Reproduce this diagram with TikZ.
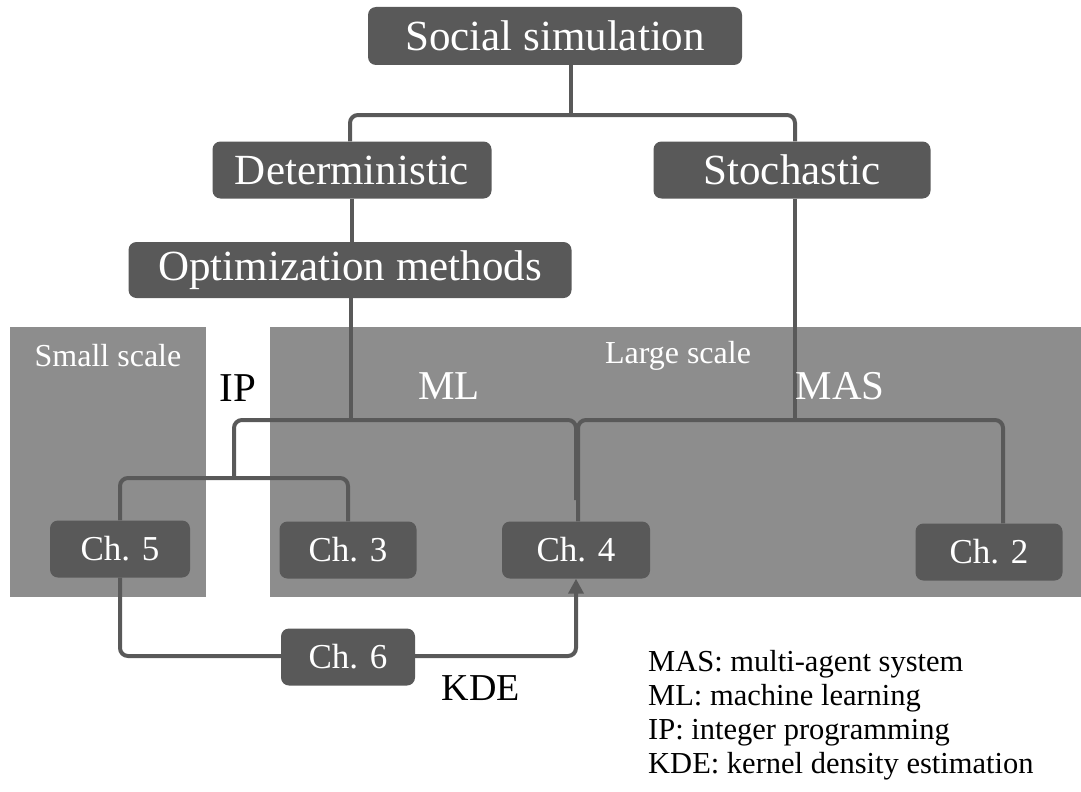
\documentclass[tikz,border=0pt]{standalone}
\usepackage{fontspec}
\setmainfont{Liberation Serif}
\usetikzlibrary{positioning, arrows.meta, backgrounds}
\definecolor{boxColor}{RGB}{89,89,89}
\definecolor{regionColor}{RGB}{141,141,141}
\tikzstyle{canvas} = [x = 1pt, y = -1pt]
\tikzstyle{boxStyle} = [fill=boxColor, text=white, rounded corners = 8pt, inner sep = 0pt, font=\fontsize{43}{50}\selectfont]
\tikzstyle{chapterStyle} = [boxStyle, minimum width = 140pt, minimum height = 57pt, font=\fontsize{35}{42}\selectfont]
\tikzstyle{linkStyle} = [color=boxColor, line width = 4pt, rounded corners = 8pt]
\tikzstyle{regionStyle} = [fill=regionColor]
\tikzstyle{regionText} = [text=white, inner sep = 0pt, font=\fontsize{32}{38}\selectfont]
\tikzstyle{labelText} = [inner sep = 0pt, font=\fontsize{41}{48}\selectfont]
\tikzstyle{legendText} = [inner sep = 0pt, align = left, anchor = north west, font=\fontsize{30.5}{34}\selectfont]

\begin{document}
\begin{tikzpicture}[canvas]
  \useasboundingbox (0,0) rectangle (1081,792);
  \node [boxStyle, minimum width = 374pt, minimum height = 58pt] (social) at (555,36) {Social simulation};
  \node [boxStyle, minimum width = 279pt, minimum height = 57pt] (determ) at (352,170) {Deterministic};
  \node [boxStyle, minimum width = 277pt, minimum height = 57pt] (stoch) at (792,170) {Stochastic};
  \node [boxStyle, minimum width = 443pt, minimum height = 56pt] (optim) at (350,270) {Optimization methods};
  \node [chapterStyle] (ch5) at (120,549) {Ch. 5};
  \node [chapterStyle, minimum width = 137pt] (ch3) at (348,550) {Ch. 3};
  \node [chapterStyle, minimum width = 148pt] (ch4) at (576,550) {Ch. 4};
  \node [chapterStyle, minimum width = 147pt] (ch2) at (989,552) {Ch. 2};
  \node [chapterStyle, minimum width = 134pt] (ch6) at (348,657) {Ch. 6};

  \node [regionText] (small) at (108,356) {Small scale};
  \node [regionText] (large) at (678,356) {Large scale};
  \node [labelText] (ip) at (238,388) {IP};
  \node [labelText, text=white] (ml) at (449,386) {ML};
  \node [labelText, text=white] (mas) at (840,386) {MAS};
  \node [labelText, font=\fontsize{38}{44}\selectfont] (kde) at (481,688) {KDE};
  \node [legendText] (legend) at (648,650) {MAS: multi-agent system\\ML: machine learning\\IP: integer programming\\KDE: kernel density estimation};

  \coordinate (topFork) at (571,115);
  \coordinate (mlFork) at (351,420);
  \coordinate (masFork) at (795,420);
  \coordinate (ipJoin) at (234,478);
  \coordinate (mlEnd) at (576,500);
  \coordinate (kdeTurn) at (576,656);

  \begin{scope}[on background layer]
    \fill [regionStyle] (10,327) rectangle (206,597);
    \fill [regionStyle] (270,327) rectangle (1081,597);
    \draw [linkStyle] ([xshift=16pt]social.south) -- (topFork);
    \draw [linkStyle] ([xshift=-2pt]determ.north) |- (topFork) -| ([xshift=3pt]stoch.north);
    \draw [linkStyle] (determ.south) -- (optim.north -| determ.south);
    \draw [linkStyle] (optim.south -| mlFork) -- (mlFork);
    \draw [linkStyle] (ipJoin) |- (mlFork) -| (mlEnd);
    \draw [linkStyle] (ch5.north) |- (ipJoin) -| (ch3.north);
    \draw [linkStyle] ([xshift=3pt]stoch.south) -- (masFork);
    \draw [linkStyle] ([xshift=2pt]ch4.north) |- (masFork) -| ([xshift=14pt]ch2.north);
    \draw [linkStyle, -{Triangle[length=15pt, width=15pt]}] (ch5.south) |- (kdeTurn) -- (ch4.south);
  \end{scope}
\end{tikzpicture}
\end{document}
